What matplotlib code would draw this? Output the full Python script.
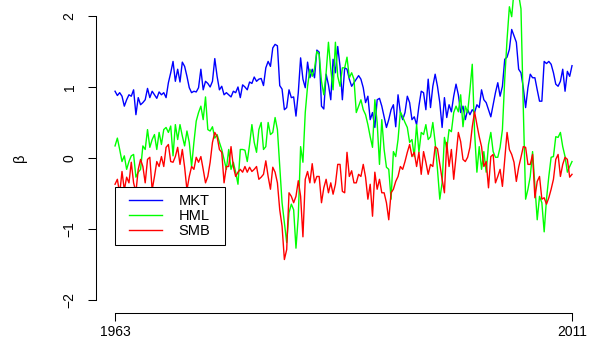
import numpy as np
import matplotlib
matplotlib.use("Agg")
import matplotlib.pyplot as plt
from matplotlib.lines import Line2D
from matplotlib.legend_handler import HandlerLine2D

plt.rcParams['font.family'] = ['Liberation Sans', 'DejaVu Sans']

# rolling factor betas, one value per quarter from 1963 to 2011
mkt = [0.94, 0.88, 0.92, 0.87, 0.73, 0.82, 0.89, 0.87, 0.96, 0.61,
       0.85, 0.75, 0.78, 0.82, 0.98, 0.85, 0.94, 0.89, 0.84, 0.93,
       0.89, 0.92, 0.85, 1.06, 1.20, 1.36, 1.08, 1.25, 1.07, 1.35,
       1.29, 1.15, 0.99, 0.92, 0.94, 0.93, 0.99, 1.25, 0.96, 1.08,
       1.05, 1.00, 1.08, 1.40, 1.15, 0.96, 1.01, 0.89, 0.92,
       0.89, 0.86, 0.94, 0.92, 1.00, 0.85, 1.03, 1.00, 0.96, 1.07,
       1.05, 1.14, 1.08, 1.11, 1.12, 1.02, 1.27, 1.36, 1.29, 1.55,
       1.60, 1.58, 1.02, 0.97, 0.68, 0.71, 0.96, 0.85, 0.86, 0.59,
       0.92, 1.41, 1.11, 0.99, 1.35, 1.13, 1.25, 1.13, 1.52, 1.49,
       0.73, 0.69, 1.18, 1.03, 0.82, 1.39, 1.20, 1.57, 1.29, 0.82,
       1.27, 1.25, 1.11, 1.01, 1.06, 1.11, 1.16, 1.11, 0.99, 0.78,
       0.87, 0.54, 0.64, 0.43, 0.82, 0.84, 0.73, 0.58, 0.43, 0.54,
       0.68, 0.75, 0.44, 0.89, 0.64, 0.54, 0.64, 0.87, 0.78, 0.54, 0.58,
       0.47, 0.73, 0.94, 0.92, 0.68, 1.11, 0.71, 1.01, 1.18, 1.01,
       0.78, 0.43, 0.85, 0.57, 0.75, 0.65, 0.87, 1.04, 0.89, 0.64,
       0.73, 0.54, 0.68, 0.61, 0.68, 0.64, 0.75, 0.71, 0.96, 0.82,
       0.78, 0.68, 0.58, 0.75, 0.92, 1.06, 0.87, 1.01, 1.39, 1.42,
       1.53, 1.81, 1.72, 1.63, 1.25, 1.20, 0.99, 0.71, 0.99, 1.18,
       1.13, 1.13, 0.96, 0.80, 0.80, 1.36, 1.33, 1.36, 1.32, 1.20,
       1.04, 1.01, 1.08, 1.25, 0.94, 1.22, 1.15, 1.30]

hml = [0.17, 0.28, 0.12, -0.05, 0.03, -0.16, -0.05, 0.03, 0.05, -0.27,
       -0.20, -0.16, 0.17, 0.12, 0.40, 0.15, 0.26, 0.33, 0.12, 0.36,
       0.19, 0.40, 0.43, 0.36, 0.45, 0.03, 0.47, 0.26, 0.47, 0.31,
       0.17, 0.38, 0.22, -0.12, 0.22, 0.52, 0.64, 0.73, 0.54, 0.86,
       0.40, 0.38, 0.44, 0.28, 0.33, 0.22, 0.12, -0.02, -0.16,
       0.12, -0.16, -0.06, -0.20, -0.37, 0.12, 0.12, 0.11, -0.05, 0.19,
       0.47, 0.22, 0.08, 0.40, 0.50, 0.12, 0.16, 0.50, 0.33, 0.36,
       0.57, 0.40, -0.12, -0.63, -0.91, -1.19, -0.77, -0.65, -0.73, -1.27,
       -0.82, 0.16, -0.06, 0.64, 1.01, 1.25, 1.15, 1.26, 1.50, 1.46,
       1.08, 0.89, 1.20, 1.63, 1.25, 0.96, 1.63, 1.15, 1.01, 1.27,
       1.27, 1.42, 1.13, 1.20, 1.11, 0.64, 0.73, 0.82, 0.68, 0.61,
       0.47, 0.30, 0.15, 0.82, 0.50, -0.09, 0.54, 0.12, -0.13, -0.16,
       -0.58, 0.09, 0.02, 0.26, 0.65, 0.58, 0.50, 0.43, 0.22, 0.26,
       0.02, 0.47, 0.08, 0.36, 0.33, 0.47, 0.26, 0.30, 0.50, 0.22,
       -0.16, -0.58, -0.35, 0.29, 0.12, 0.40, 0.37, 0.64, 0.73,
       0.65, 0.89, 0.44, 0.73, 0.64, 0.96, 1.32, 0.36, -0.20, 0.16,
       -0.16, 0.09, -0.20, 0.19, 0.36, 0.09, 0.01, 0.01, 0.15, 0.40,
       1.11, 1.67, 2.13, 1.99, 2.35, 2.40, 2.30, 2.10, 0.70, -0.58,
       -0.44, -0.26, 0.09, -0.40, -0.87, -0.54, -0.63, -1.04, -0.58, -0.26,
       0.01, 0.02, 0.30, 0.29, 0.36, 0.16, 0.02, -0.20, -0.12, -0.05]

smb = [-0.37, -0.30, -0.50, -0.19, -0.45, -0.27, -0.35, -0.06, -0.35, -0.48,
       -0.16, -0.02, -0.12, -0.35, -0.02, 0.01, -0.45, -0.26, -0.05, -0.12,
       0.02, -0.12, 0.15, 0.19, -0.05, -0.06, 0.02, 0.15, -0.09, 0.12,
       -0.13, -0.45, -0.26, -0.12, -0.16, 0.01, -0.06, 0.02, -0.16, -0.35,
       -0.26, -0.06, 0.22, 0.36, 0.30, 0.12, 0.08, -0.35, -0.12,
       -0.12, 0.16, -0.12, -0.26, -0.20, -0.16, -0.20, -0.12, -0.20, -0.13,
       -0.19, -0.16, -0.12, -0.30, -0.27, -0.23, -0.04, -0.26, -0.44, -0.13,
       -0.20, -0.35, -0.73, -0.96, -1.43, -1.29, -0.49, -0.54, -0.63, -0.54,
       -0.32, -0.54, -1.11, -0.30, -0.19, -0.35, -0.08, -0.35, -0.26, -0.26,
       -0.63, -0.42, -0.30, -0.49, -0.35, -0.51, -0.37, -0.09, -0.09, -0.47,
       -0.49, 0.08, -0.26, -0.18, -0.35, -0.35, -0.23, -0.26, -0.09, -0.27,
       -0.58, -0.37, -0.82, -0.20, -0.44, -0.30, -0.49, -0.49, -0.63, -0.87,
       -0.49, -0.44, -0.33, -0.26, -0.12, -0.16, -0.05, 0.08, 0.19, 0.02,
       0.08, -0.12, 0.08, -0.23, 0.09, -0.06, -0.23, -0.09, -0.12, 0.16,
       0.13, -0.09, -0.30, -0.49, 0.22, -0.12, 0.12, -0.30, 0.02, 0.36,
       0.23, -0.02, -0.05, 0.01, 0.15, 0.44, 0.65, 0.47, 0.30, 0.16,
       -0.12, -0.05, -0.42, 0.02, 0.05, -0.35, -0.26, -0.16, -0.40, -0.02,
       0.36, 0.12, 0.05, -0.06, -0.33, -0.13, 0.01, 0.16, 0.15, -0.09,
       -0.09, 0.05, -0.56, -0.33, -0.26, -0.58, -0.56, -0.65, -0.56, -0.44,
       -0.30, -0.02, 0.05, -0.26, -0.09, 0.01, -0.02, -0.27, -0.23]

series_names = ['MKT', 'HML', 'SMB']
series_colors = ['blue', '#00ff00', 'red']
year_ticks = [1963, 2011]
beta_ticks = [-2, -1, 0, 1, 2]

quarters = np.linspace(year_ticks[0], year_ticks[1], len(mkt))

fig = plt.figure(figsize=(5.9, 3.49), dpi=100)
ax = fig.add_axes([96 / 590, 36 / 349, 494 / 590, 313 / 349])

for values, name, color in zip([mkt, hml, smb], series_names, series_colors):
    ax.plot(quarters, values, color=color, lw=1.0, label=name)

ax.set_xlim(1961.0, 2012.89)
ax.set_ylim(-2.183, 2.225)

# R-style axes: detached lines that only span the tick range
for side in ['top', 'right']:
    ax.spines[side].set_visible(False)
ax.spines['left'].set_bounds(beta_ticks[0], beta_ticks[-1])
ax.spines['bottom'].set_bounds(year_ticks[0], year_ticks[-1])
for side in ['left', 'bottom']:
    ax.spines[side].set_linewidth(0.75)

ax.set_xticks(year_ticks)
ax.set_yticks(beta_ticks)
ax.tick_params(direction='out', length=5.5, width=0.75, labelsize=10)
ax.tick_params(axis='x', pad=3)
ax.tick_params(axis='y', labelrotation=90, pad=8.5)
for lbl in ax.get_yticklabels():
    lbl.set_va('center')

ax.set_ylabel('β', fontsize=10.5)
ax.yaxis.set_label_coords(-0.14, 0.495)

leg = ax.legend(loc='upper left',
                bbox_to_anchor=(115 / 590, 1 - 251 / 349, 110 / 590, 64 / 349),
                bbox_transform=fig.transFigure, mode='expand', borderaxespad=0,
                fancybox=False, edgecolor='black', framealpha=1, fontsize=10.5,
                handlelength=2.75, handletextpad=1.1, borderpad=0.5,
                labelspacing=0.05, handler_map={Line2D: HandlerLine2D(xpad=0.48)})
leg.get_frame().set_linewidth(0.75)

fig.savefig('out.png', dpi=100)
